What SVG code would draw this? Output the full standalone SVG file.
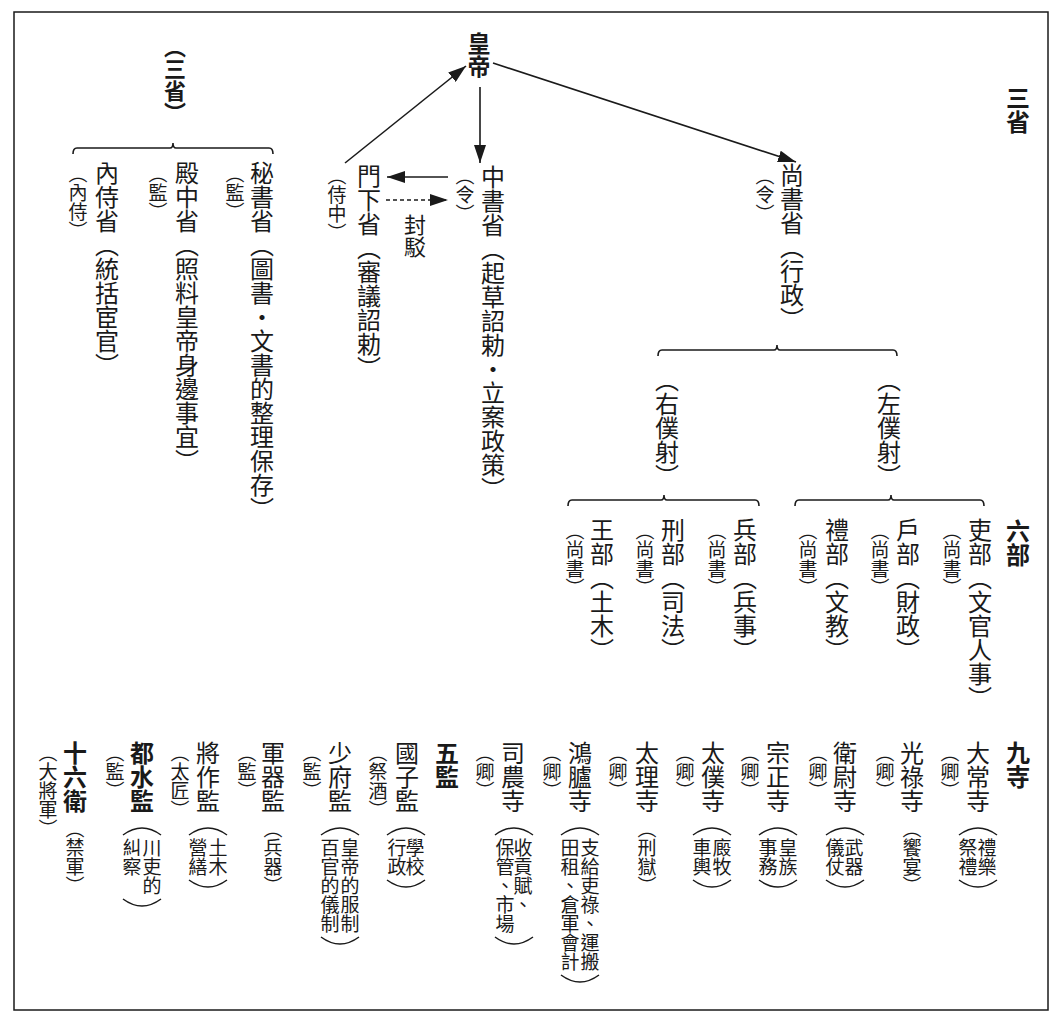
<svg xmlns="http://www.w3.org/2000/svg" width="1063" height="1024" viewBox="0 0 1063 1024">
<style>
text{font-family:"Noto Sans CJK TC","Noto Sans CJK JP",sans-serif;writing-mode:vertical-rl;fill:#1a1a1a}
.n{font-size:24px}
.s{font-size:19px}
.w{font-size:19px}
.b{font-weight:bold}
.ln{fill:none;stroke:#1a1a1a;stroke-width:1.6}
.arc{fill:none;stroke:#1a1a1a;stroke-width:1.5}
</style>
<defs>
<marker id="ah" markerUnits="userSpaceOnUse" markerWidth="18" markerHeight="12" refX="18" refY="6" orient="auto">
<path d="M0,0 L18,6 L0,12 z" fill="#1a1a1a"/>
</marker>
</defs>
<rect x="14" y="12" width="1034" height="998" fill="#fff" stroke="#1a1a1a" stroke-width="1.5"/>

<g id="connectors">
<line class="ln" x1="480" y1="87" x2="480" y2="163" marker-end="url(#ah)"/>
<line class="ln" x1="345" y1="163" x2="466" y2="66" marker-end="url(#ah)"/>
<line class="ln" x1="493" y1="63" x2="796" y2="162" marker-end="url(#ah)"/>
<line class="ln" x1="448" y1="177" x2="387" y2="177" marker-end="url(#ah)"/>
<line class="ln" x1="386" y1="200" x2="448" y2="200" stroke-dasharray="4,3" marker-end="url(#ah)"/>
<path class="ln" d="M73,154 Q73,148 77,148 L170,148 Q173,148 173,143 Q173,148 176,148 L269,148 Q273,148 273,154"/>
<path class="ln" d="M658,356 Q658,350 662,350 L774,350 Q777,350 777,345 Q777,350 780,350 L893,350 Q897,350 897,356"/>
<path class="ln" d="M568,506 Q568,500 572,500 L661,500 Q664,500 664,495 Q664,500 667,500 L755,500 Q759,500 759,506"/>
<path class="ln" d="M795,506 Q795,500 799,500 L888,500 Q891,500 891,495 Q891,500 894,500 L980,500 Q984,500 984,506"/>
</g>

<g id="label-sansheng"><text class="n b" x="1018" y="86">三省</text></g>
<g id="label-liubu"><text class="n b" x="1018" y="519">六部</text></g>
<g id="label-jiusi"><text class="n b" x="1018" y="741">九寺</text></g>
<g id="label-wujian"><text class="n b" x="447" y="741">五監</text></g>

<g id="huangdi"><text class="b" style="font-size:23px" x="479" y="32">皇帝</text></g>
<g id="fengbo"><text style="font-size:22px" x="415" y="214">封駁</text></g>

<g id="menxia"><text class="n" x="369" y="164">門下省（審議詔勅）</text><text class="s" x="337" y="166">（侍中）</text></g>
<g id="zhongshu"><text class="n" x="493" y="165">中書省（起草詔勅・立案政策）</text><text class="s" x="465" y="166">（令）</text></g>
<g id="shangshu"><text class="n" x="792" y="163">尚書省（行政）</text><text class="s" x="765" y="166">（令）</text></g>
<g id="youpuye"><text class="n" x="667" y="368">（右僕射）</text></g>
<g id="zuopuye"><text class="n" x="889" y="368">（左僕射）</text></g>

<g id="sansheng-title"><text class="b" style="font-size:22px" x="175" y="36">（三省）</text></g>
<g id="mishu"><text class="n" x="262" y="161">秘書省（圖書・文書的整理保存）</text><text class="s" x="235" y="164">（監）</text></g>
<g id="dianzhong"><text class="n" x="187" y="161">殿中省（照料皇帝身邊事宜）</text><text class="s" x="158" y="164">（監）</text></g>
<g id="neishi"><text class="n" x="107" y="161">內侍省（統括宦官）</text><text class="s" x="78" y="164">（內侍）</text></g>

<g id="libu"><text class="n" x="980" y="518">吏部（文官人事）</text><text class="s" x="952" y="521">（尚書）</text></g>
<g id="hubu"><text class="n" x="908" y="518">戶部（財政）</text><text class="s" x="880" y="521">（尚書）</text></g>
<g id="libu2"><text class="n" x="837" y="518">禮部（文教）</text><text class="s" x="808" y="521">（尚書）</text></g>
<g id="bingbu"><text class="n" x="745" y="518">兵部（兵事）</text><text class="s" x="717" y="521">（尚書）</text></g>
<g id="xingbu"><text class="n" x="673" y="518">刑部（司法）</text><text class="s" x="645" y="521">（尚書）</text></g>
<g id="gongbu"><text class="n" x="602" y="518">王部（土木）</text><text class="s" x="575" y="521">（尚書）</text></g>

<g id="taichang"><text class="n" x="978" y="741">大常寺</text><text class="s" x="950" y="743">（卿）</text>
<path class="arc" d="M959,835 Q978,821 997,835"/><text class="w" x="987" y="838">禮樂</text><text class="w" x="968" y="838">祭禮</text><path class="arc" d="M959,880 Q978,894 997,880"/></g>
<g id="guanglu"><text class="n" x="912" y="741">光祿寺</text><text class="s" x="885" y="743">（卿）</text><text class="w" x="912" y="819">（饗宴）</text></g>
<g id="weiwei"><text class="n" x="845" y="741">衛尉寺</text><text class="s" x="818" y="743">（卿）</text>
<path class="arc" d="M826,835 Q845,821 864,835"/><text class="w" x="854" y="838">武器</text><text class="w" x="835" y="838">儀仗</text><path class="arc" d="M826,880 Q845,894 864,880"/></g>
<g id="zongzheng"><text class="n" x="778" y="741">宗正寺</text><text class="s" x="750" y="743">（卿）</text>
<path class="arc" d="M759,835 Q778,821 797,835"/><text class="w" x="788" y="838">皇族</text><text class="w" x="768" y="838">事務</text><path class="arc" d="M759,880 Q778,894 797,880"/></g>
<g id="taipu"><text class="n" x="713" y="741">太僕寺</text><text class="s" x="685" y="743">（卿）</text>
<path class="arc" d="M693,835 Q712,821 731,835"/><text class="w" x="722" y="838">廄牧</text><text class="w" x="702" y="838">車輿</text><path class="arc" d="M693,880 Q712,894 731,880"/></g>
<g id="dali"><text class="n" x="647" y="741">太理寺</text><text class="s" x="618" y="743">（卿）</text><text class="w" x="647" y="819">（刑獄）</text></g>
<g id="honglu"><text class="n" x="580" y="741">鴻臚寺</text><text class="s" x="552" y="743">（卿）</text>
<path class="arc" d="M561,835 Q580,821 599,835"/><text class="w" x="590" y="838">支給吏祿、運搬</text><text class="w" x="570" y="838">田租、倉軍會計</text><path class="arc" d="M561,975 Q580,989 599,975"/></g>
<g id="sinong"><text class="n" x="513" y="741">司農寺</text><text class="s" x="485" y="743">（卿）</text>
<path class="arc" d="M495,835 Q514,821 533,835"/><text class="w" x="523" y="838">收貢賦、</text><text class="w" x="505" y="838">保管、市場</text><path class="arc" d="M495,937 Q514,951 533,937"/></g>

<g id="guozi"><text class="n" x="407" y="741">國子監</text><text class="s" x="378" y="743">（祭酒）</text>
<path class="arc" d="M387,835 Q406,821 425,835"/><text class="w" x="415" y="838">學校</text><text class="w" x="397" y="838">行政</text><path class="arc" d="M387,880 Q406,894 425,880"/></g>
<g id="shaofu"><text class="n" x="340" y="741">少府監</text><text class="s" x="312" y="743">（監）</text>
<path class="arc" d="M321,835 Q340,821 359,835"/><text class="w" x="350" y="838">皇帝的服制</text><text class="w" x="330" y="838">百官的儀制</text><path class="arc" d="M321,937 Q340,951 359,937"/></g>
<g id="junqi"><text class="n" x="273" y="741">軍器監</text><text class="s" x="247" y="743">（監）</text><text class="w" x="273" y="819">（兵器）</text></g>
<g id="jiangzuo"><text class="n" x="208" y="741">將作監</text><text class="s" x="180" y="743">（太匠）</text>
<path class="arc" d="M189,835 Q208,821 227,835"/><text class="w" x="218" y="838">土木</text><text class="w" x="198" y="838">營繕</text><path class="arc" d="M189,880 Q208,894 227,880"/></g>
<g id="dushui"><text class="n b" x="142" y="741">都水監</text><text class="s" x="115" y="743">（監）</text>
<path class="arc" d="M123,835 Q142,821 161,835"/><text class="w" x="152" y="838">川吏的</text><text class="w" x="132" y="838">糾察</text><path class="arc" d="M123,899 Q142,913 161,899"/></g>
<g id="shiliuwei"><text class="n b" x="75" y="741">十六衛</text><text class="s" x="48" y="743">（大將軍）</text><text class="w" x="75" y="819">（禁軍）</text></g>
</svg>
